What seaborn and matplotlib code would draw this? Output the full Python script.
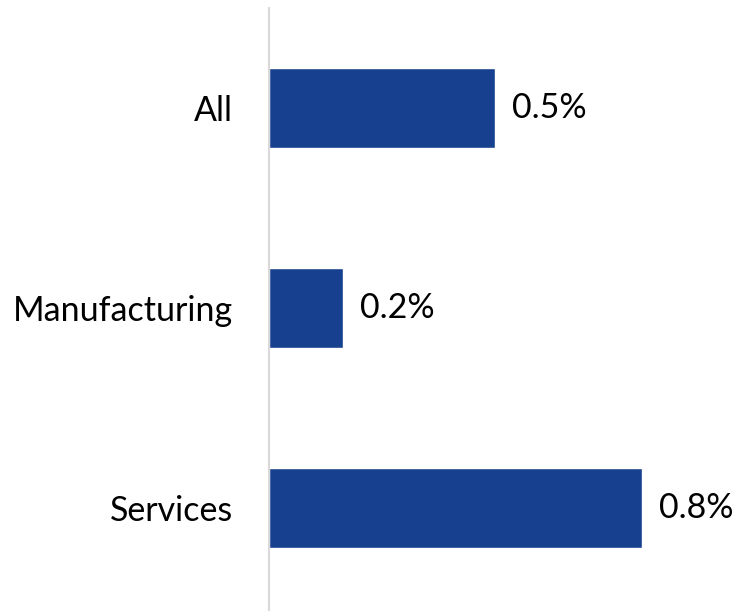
import matplotlib
matplotlib.use("Agg")
import matplotlib.pyplot as plt
import seaborn as sns
import pandas as pd

categories = ["All", "Manufacturing", "Services"]
values = [0.486, 0.159, 0.80]
labels = ["0.5%", "0.2%", "0.8%"]

sns.set_style("white")
plt.rcParams['font.family'] = ['Lato', 'DejaVu Sans']

df = pd.DataFrame({"cat": categories, "val": values})

fig = plt.figure(figsize=(7.35, 6.11), dpi=100)
ax = fig.add_axes([269/735, 0.0, 1 - 269/735, 603/611])

sns.barplot(data=df, y="cat", x="val", color="#17408F", saturation=1,
            width=0.4, orient="h", ax=ax)

ax.set_xlim(0, 1.0)
ax.set_ylim(2.515, -0.5)
for i, (v, lab) in enumerate(zip(values, labels)):
    ax.text(v + 0.036, i, lab, va="center", ha="left", fontsize=24.5, color="#000000")

ax.set_xlabel("")
ax.set_ylabel("")
ax.set_xticks([])
ax.tick_params(axis="y", length=0, pad=26, labelsize=24.5, labelcolor="#000000")
for s in ["top", "right", "bottom"]:
    ax.spines[s].set_visible(False)
ax.spines["left"].set_color("#D9D9D9")
ax.spines["left"].set_linewidth(1.5)

fig.savefig("out.png", dpi=100)
